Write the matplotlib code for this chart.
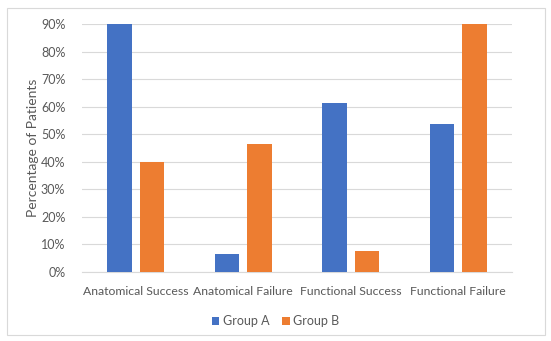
import numpy as np
import matplotlib
matplotlib.use('agg')
import matplotlib.pyplot as plt
from matplotlib.patches import Rectangle

categories = ["Anatomical Success", "Anatomical Failure", "Functional Success", "Functional Failure"]
group_a = [90.0, 6.6, 61.3, 53.7]
group_b = [40.0, 46.3, 7.6, 90.0]
yticks = [0, 10, 20, 30, 40, 50, 60, 70, 80, 90]

plt.rcParams['font.family'] = ['Lato', 'DejaVu Sans']
txt = '#595959'

fig = plt.figure(figsize=(5.51, 3.41), dpi=100)
fig.patches.append(Rectangle((7/551, 6/341), 538/551, 327/341, transform=fig.transFigure,
                             fill=False, edgecolor='#D9D9D9', linewidth=0.8))
ax = fig.add_axes([82/551, 1 - 272/341, 430/551, 248/341])

x = np.arange(len(categories))
w = 0.23
ax.bar(x - 0.15, group_a, w, color='#4472C4', label='Group A', zorder=3)
ax.bar(x + 0.15, group_b, w, color='#ED7D31', label='Group B', zorder=3)

ax.set_xlim(-0.5, 3.5)
ax.set_ylim(0, 90)
ax.set_yticks(yticks)
ax.set_yticklabels([f"{v}%" for v in yticks], color=txt, fontsize=9)
ax.set_xticks(x)
ax.set_xticklabels(categories, color=txt, fontsize=8.8)
ax.tick_params(length=0)
ax.tick_params(axis='x', pad=10)
ax.tick_params(axis='y', pad=12)
ax.grid(axis='y', color='#D9D9D9', linewidth=0.8, zorder=0)
for s in ['top', 'right', 'left']:
    ax.spines[s].set_visible(False)
ax.spines['bottom'].set_color('#D9D9D9')
ax.set_ylabel("Percentage of Patients", color=txt, fontsize=10)
ax.yaxis.set_label_coords(-0.1, 0.5)

fig.legend(loc='center', bbox_to_anchor=(0.5, 1 - 321/341), ncol=2, frameon=False,
           fontsize=9, labelcolor=txt, handlelength=0.6, handleheight=0.6,
           handletextpad=0.3, columnspacing=1.0)

plt.savefig('out.png', dpi=100)
